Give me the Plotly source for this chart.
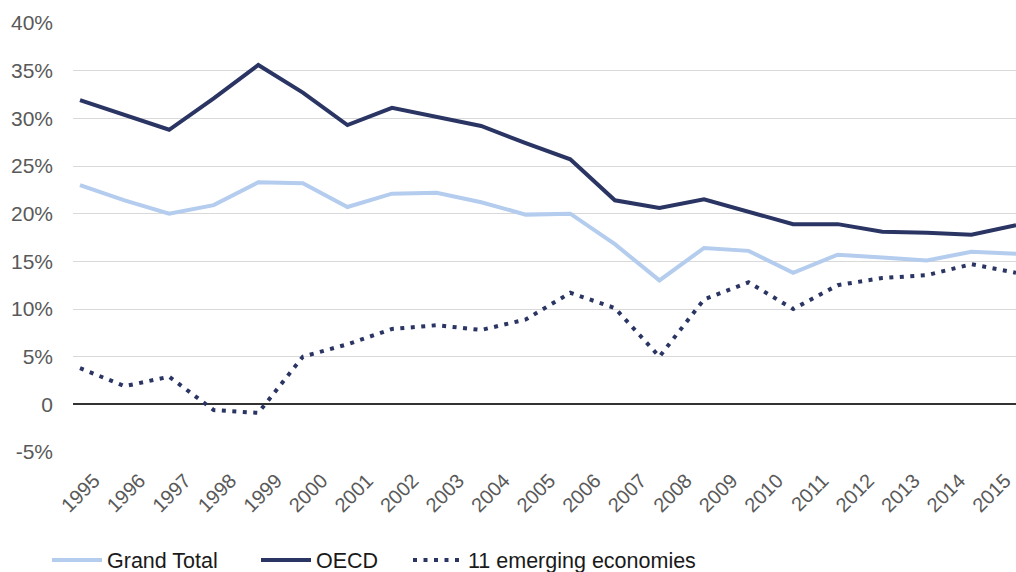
import plotly.graph_objects as go

# 22 observation points along the horizontal axis
points = list(range(22))
year_labels = [str(y) for y in range(1995, 2016)]

grand_total = [23.0, 21.4, 20.0, 20.9, 23.3, 23.2, 20.7, 22.1, 22.2, 21.2, 19.9,
               20.0, 16.8, 13.0, 16.4, 16.1, 13.8, 15.7, 15.4, 15.1, 16.0, 15.8]
oecd = [31.9, 30.3, 28.8, 32.1, 35.6, 32.7, 29.3, 31.1, 30.1, 29.2, 27.4,
        25.7, 21.4, 20.6, 21.5, 20.2, 18.9, 18.9, 18.1, 18.0, 17.8, 18.8]
emerging = [3.8, 1.9, 2.9, -0.6, -0.9, 5.0, 6.3, 7.9, 8.3, 7.8, 8.9,
            11.7, 10.1, 5.0, 11.0, 12.8, 10.0, 12.5, 13.25, 13.55, 14.7, 13.8]

y_ticks = [-5, 0, 5, 10, 15, 20, 25, 30, 35, 40]
y_tick_text = ["-5%", "0", "5%", "10%", "15%", "20%", "25%", "30%", "35%", "40%"]

NAVY = "#2a3564"
LIGHT = "#b4ccee"
FONT = "Arial, Liberation Sans, sans-serif"

fig = go.Figure()
fig.add_trace(go.Scatter(x=points, y=grand_total, mode="lines", name="Grand Total",
                         line=dict(color=LIGHT, width=4), legend="legend"))
fig.add_trace(go.Scatter(x=points, y=oecd, mode="lines", name="OECD",
                         line=dict(color=NAVY, width=4), legend="legend2"))
fig.add_trace(go.Scatter(x=points, y=emerging, mode="lines", name="11 emerging economies",
                         line=dict(color=NAVY, width=4, dash="4px,6.5px"), legend="legend3"))

# label positions along the category axis
tick_pos = [0.314 + 1.022 * k for k in range(len(year_labels))]

W, H = 1016, 572
L, R, T, B = 73, 0, 23, 120
pw = W - L - R
ph = H - T - B

def px_x(px):
    return (px - L) / pw

def px_y(py):
    return (H - B - py) / ph

leg_common = dict(orientation="h", yanchor="middle", xanchor="left",
                  font=dict(family=FONT, size=21.5, color="#1a1a1a"),
                  bgcolor="rgba(0,0,0,0)", itemwidth=50, tracegroupgap=0)

fig.update_layout(
    width=W, height=H,
    margin=dict(l=L, r=R, t=T, b=B, pad=0, autoexpand=False),
    plot_bgcolor="white", paper_bgcolor="white",
    font=dict(family=FONT, size=20, color="#595959"),
    showlegend=True,
    legend=dict(x=px_x(47), y=px_y(560), **leg_common),
    legend2=dict(x=px_x(256), y=px_y(560), **leg_common),
    legend3=dict(x=px_x(408), y=px_y(560), **leg_common),
    xaxis=dict(range=[-0.157, 21.0], tickmode="array", tickvals=tick_pos,
               ticktext=year_labels, tickangle=-45, showgrid=False, zeroline=False,
               showline=False, ticks="", ticklabelstandoff=12, automargin=False,
               tickfont=dict(size=20, color="#595959")),
    yaxis=dict(range=[-5, 40], tickmode="array", tickvals=y_ticks, ticktext=y_tick_text,
               showgrid=True, gridcolor="#d9d9d9", gridwidth=1,
               zeroline=True, zerolinecolor="#333333", zerolinewidth=1.5,
               showline=False, ticks="", ticklabelstandoff=19, automargin=False,
               tickfont=dict(size=21, color="#595959")),
)

fig.write_html("out.html", config={"displayModeBar": False},
               post_script="document.body.style.margin='0';document.body.style.overflow='hidden';")
